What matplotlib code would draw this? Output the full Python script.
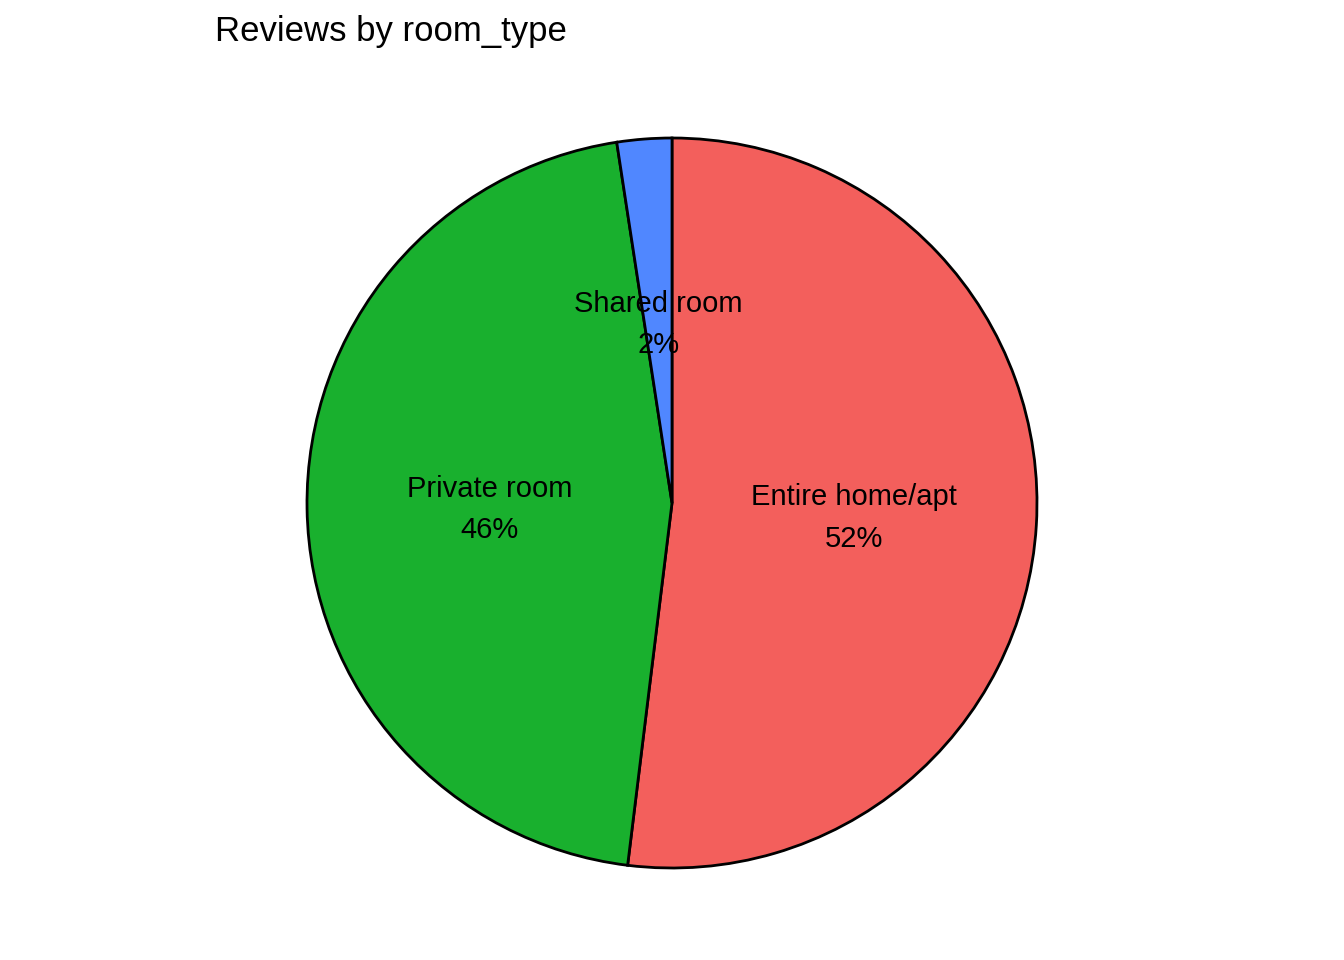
import matplotlib
matplotlib.use("Agg")
import matplotlib.pyplot as plt
import numpy as np

categories = ["Entire home/apt", "Private room", "Shared room"]
shares = [0.5194, 0.4564, 0.0242]
pct_labels = ["52%", "46%", "2%"]
colors = ["#F35F5C", "#19B02E", "#5087FF"]

plt.rcParams['font.family'] = ['Liberation Sans', 'DejaVu Sans']

W, H = 1344, 960
fig = plt.figure(figsize=(W / 100, H / 100), dpi=100)
cx, cy, R = 672, 503, 365
ax = fig.add_axes([(cx - R) / W, (H - cy - R) / H, 2 * R / W, 2 * R / H])

ax.pie(shares, colors=colors, startangle=90, counterclock=False,
       radius=1, wedgeprops=dict(edgecolor="black", linewidth=2, clip_on=False),
       labels=None)

theta = 90.0
for i, s in enumerate(shares):
    span = 360.0 * s
    mid = np.deg2rad(theta - span / 2)
    ax.text(0.5 * np.cos(mid), 0.5 * np.sin(mid) - 0.010, f"{categories[i]}\n{pct_labels[i]}",
            ha="center", va="center", fontsize=21, linespacing=1.62)
    theta -= span

ax.set_xlim(-1, 1)
ax.set_ylim(-1, 1)
ax.set_aspect("equal")
ax.axis("off")

fig.text(215 / W, 1 - 15 / H, "Reviews by room_type", ha="left", va="top", fontsize=25)

fig.savefig("out.png", dpi=100)
